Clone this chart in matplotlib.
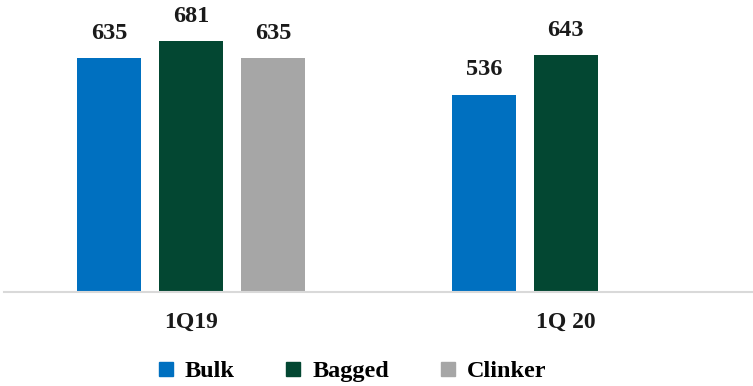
import matplotlib
matplotlib.use("Agg")
import matplotlib.pyplot as plt
from matplotlib.lines import Line2D

# Dispatch volumes per quarter (thousand tons)
quarters = ["1Q19", "1Q 20"]
series = ["Bulk", "Bagged", "Clinker"]
bulk = [635, 536]
bagged = [681, 643]
clinker = [635, None]

colors = {"Bulk": "#0070c0", "Bagged": "#034732", "Clinker": "#a6a6a6"}

plt.rcParams["font.family"] = ["Liberation Serif", "DejaVu Serif"]
plt.rcParams["font.weight"] = "bold"

fig = plt.figure(figsize=(7.53, 3.86), dpi=100)
ax = fig.add_axes([4 / 753, 94 / 386, 749 / 753, 276 / 386])

step = 82 / 374.5
width = 64 / 374.5
for i, (name, values) in enumerate(zip(series, [bulk, bagged, clinker])):
    for j, v in enumerate(values):
        if v is None:
            continue
        x = j + (i - 1) * step
        ax.bar(x, v, width=width, color=colors[name], zorder=2)
        ax.annotate(str(v), (x, v), xytext=(0, 10.5), textcoords="offset points",
                    ha="center", va="bottom", fontsize=17.5,
                    fontweight="bold", color="#1a1a1a")

ax.set_xlim(-0.5, 1.5)
ax.set_ylim(0, 750)
ax.set_xticks(range(len(quarters)))
ax.set_xticklabels(quarters, fontsize=17, fontweight="bold", color="#1a1a1a")
ax.tick_params(axis="x", length=0, pad=14)
ax.set_yticks([])
for side in ["top", "right", "left"]:
    ax.spines[side].set_visible(False)
ax.spines["bottom"].set_color("#d9d9d9")
ax.spines["bottom"].set_linewidth(1.5)

handles = [Line2D([], [], marker="s", linestyle="none", markersize=9.5,
                  markerfacecolor=colors[s], markeredgecolor=colors[s])
           for s in series]
fig.legend(handles, series, loc="center", bbox_to_anchor=(350 / 753, 1 - 371 / 386),
           ncol=3, frameon=False, fontsize=17.5, handletextpad=0.3,
           columnspacing=1.9, handlelength=1.0)

fig.savefig("out.png", dpi=100)
